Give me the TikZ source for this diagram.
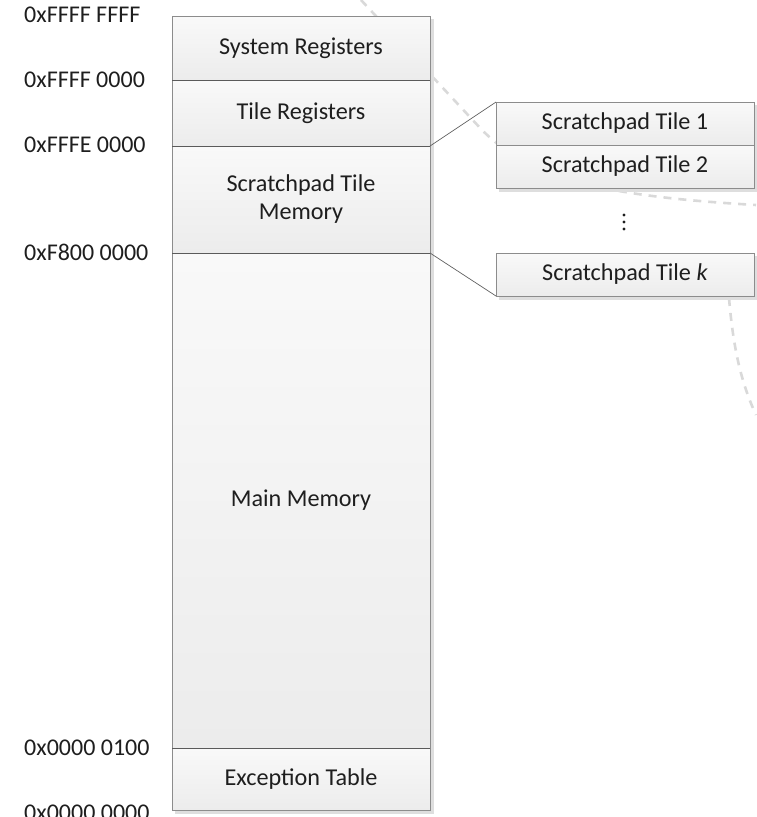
\documentclass[tikz,border=0pt]{standalone}
\usepackage{fontspec}
\setmainfont{Carlito}
\definecolor{boxgray}{HTML}{8C8C8C}
\definecolor{sepgray}{HTML}{5A5A5A}
\definecolor{boxtop}{HTML}{F9F9F9}
\definecolor{boxbot}{HTML}{ECECEC}
\definecolor{shadowgray}{HTML}{DEDEDE}
\definecolor{dashgray}{HTML}{D9D9D9}
\definecolor{txt}{HTML}{1E1E1E}
\definecolor{linegray}{HTML}{606060}
\begin{document}
\begin{tikzpicture}[x=1pt,y=-1pt,
  mem/.style={draw=boxgray, line width=0.8pt, top color=boxtop, bottom color=boxbot,
    inner sep=0pt, outer sep=0pt, anchor=north west, minimum width=258pt,
    font=\fontsize{24.2}{28}\selectfont, text=txt, align=center},
  addr/.style={anchor=west, inner sep=0pt, font=\fontsize{24}{28}\selectfont, text=txt},
  bgdash/.style={draw=dashgray, line width=2.6pt, dash pattern=on 8pt off 7pt},
  sepline/.style={draw=sepgray, line width=0.9pt},
  conn/.style={draw=linegray, line width=0.7pt}]
\useasboundingbox (0,0) rectangle (756,817);

% faint background dashes
\draw[bgdash] (361,0) -- (482,130) .. controls (530,178) and (600,196) .. (756,205);
\draw[bgdash] (729,298) .. controls (733,345) and (740,380) .. (756,415);

% shadows
\fill[shadowgray] (175,19) rectangle (434,814);
\fill[shadowgray] (499,105) rectangle (758,192);
\fill[shadowgray] (499,256) rectangle (758,300);

% memory column
\node[mem, minimum height=64pt] (sys) at (172,16) {System Registers};
\node[mem, minimum height=66pt] (tile) at (172,80) {Tile Registers};
\node[mem, minimum height=107pt] (spm) at (172,146) {Scratchpad Tile\\Memory};
\node[mem, minimum height=495pt] (main) at (172,253) {Main Memory};
\node[mem, minimum height=62pt] (exc) at (172,748) {Exception Table};

\draw[sepline] (sys.south west) -- (sys.south east);
\draw[sepline] (tile.south west) -- (tile.south east);
\draw[sepline] (spm.south west) -- (spm.south east);
\draw[sepline] (main.south west) -- (main.south east);

% tiles
\node[mem, minimum height=43pt] (t1) at (496,102) {Scratchpad Tile 1};
\node[mem, minimum height=43pt] (t2) at (496,145) {Scratchpad Tile 2};
\node[mem, minimum height=43pt] (tk) at (496,253) {Scratchpad Tile \textit{k}};

\fill[txt] (624,215) circle (1.7pt);
\fill[txt] (624,222) circle (1.7pt);
\fill[txt] (624,229) circle (1.7pt);

% connectors
\draw[conn] (tile.south east) -- (t1.north west);
\draw[conn] (spm.south east) -- (tk.south west);

% addresses
\node[addr] (a0) at (24,15) {0xFFFF FFFF};
\node[addr] (a1) at (24,80) {0xFFFF 0000};
\node[addr] (a2) at (24,145) {0xFFFE 0000};
\node[addr] (a3) at (24,252) {0xF800 0000};
\node[addr] (a4) at (24,748) {0x0000 0100};
\node[addr] (a5) at (24,813) {0x0000 0000};
\end{tikzpicture}
\end{document}
